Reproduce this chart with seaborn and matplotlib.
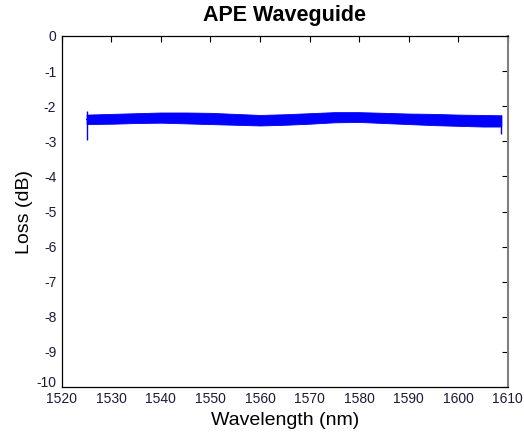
import matplotlib
matplotlib.use("Agg")
import matplotlib.pyplot as plt
import matplotlib.transforms as mtransforms
import seaborn as sns
import pandas as pd

# ---- data (envelope of the noisy trace) ----
wavelength = [1525, 1530, 1535, 1540, 1545, 1550, 1555, 1560, 1565, 1570,
              1575, 1580, 1585, 1590, 1595, 1600, 1605, 1608.7]
upper = [-2.24, -2.22, -2.20, -2.18, -2.18, -2.19, -2.22, -2.25, -2.23, -2.20,
         -2.17, -2.17, -2.19, -2.21, -2.22, -2.24, -2.25, -2.26]
lower = [-2.51, -2.50, -2.48, -2.47, -2.49, -2.51, -2.53, -2.55, -2.53, -2.50,
         -2.46, -2.45, -2.48, -2.51, -2.54, -2.56, -2.58, -2.58]
spike_wl = [1525.0, 1608.7]
spike_top = [-2.14, -2.26]
spike_bottom = [-2.96, -2.79]

x_ticks = [1520, 1530, 1540, 1550, 1560, 1570, 1580, 1590, 1600, 1610]
y_ticks = [0, -1, -2, -3, -4, -5, -6, -7, -8, -9, -10]

df = pd.DataFrame({
    "Wavelength": wavelength + wavelength,
    "Loss": upper + lower,
})

sns.set_style("white")
plt.rcParams["font.family"] = ["Liberation Sans", "DejaVu Sans"]
plt.rcParams["axes.unicode_minus"] = False
plt.rcParams["text.color"] = "black"
plt.rcParams["axes.labelcolor"] = "black"

fig = plt.figure(figsize=(5.24, 4.33), dpi=100)
ax = fig.add_axes([0.118, 0.106, 0.851, 0.811])

blue = "#0000ff"
sns.lineplot(data=df, x="Wavelength", y="Loss", estimator="mean",
             errorbar=("pi", 100), color=blue, linewidth=1.0,
             err_kws={"alpha": 1.0, "linewidth": 0.6, "edgecolor": blue},
             ax=ax)
ax.vlines(spike_wl, spike_bottom, spike_top, color=blue, linewidth=1.0)

ax.set_xlim(1520, 1610)
ax.set_ylim(-10, 0)
ax.set_xticks(x_ticks)
ax.set_yticks(y_ticks)
tick_color = "#1a1a3a"
ax.tick_params(axis="both", direction="in", length=4, width=0.8,
               top=True, right=True, labelsize=10, labelcolor=tick_color,
               color="black")
ax.tick_params(axis="x", pad=3.5)
ax.tick_params(axis="y", pad=4)
for s in ax.spines.values():
    s.set_visible(True)
    s.set_color("black")
    s.set_linewidth(0.9)
ax.spines["right"].set_color("#808080")
ax.spines["right"].set_linewidth(1.5)

# nudge the bottom y tick label up a little, as in the reference
fig.canvas.draw()
ylabels = ax.get_yticklabels()
offset = mtransforms.ScaledTranslation(0, 4 / 72, fig.dpi_scale_trans)
for lab in ylabels:
    if lab.get_text() == "-10":
        lab.set_transform(lab.get_transform() + offset)

ax.set_title("APE Waveguide", fontsize=15.5, fontweight="bold", pad=11,
             color="black")
ax.set_xlabel("Wavelength (nm)", fontsize=14, labelpad=4)
ax.set_ylabel("Loss (dB)", fontsize=14, labelpad=2)

fig.savefig("out.png", dpi=100, facecolor="white")
